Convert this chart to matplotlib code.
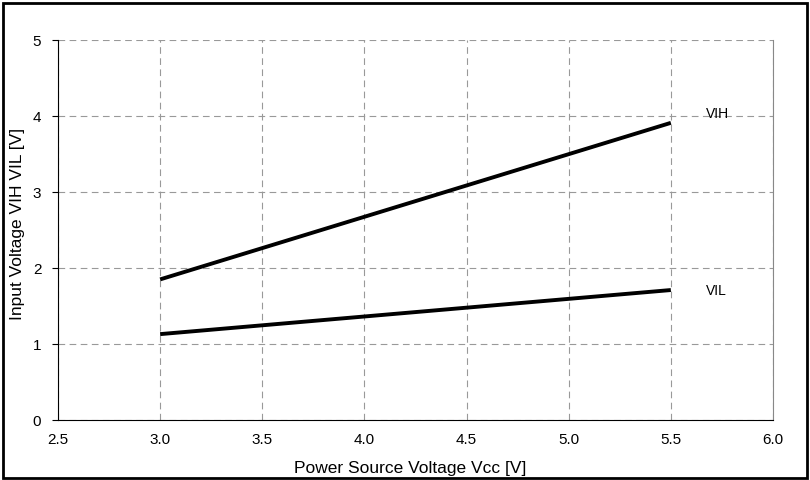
import matplotlib
matplotlib.use('Agg')
import matplotlib.pyplot as plt
from matplotlib.patches import Rectangle

plt.rcParams['font.family'] = ['Liberation Sans', 'DejaVu Sans']

vcc = [3.0, 5.5]
vih = [1.85, 3.91]
vil = [1.13, 1.71]

x_ticks = [2.5, 3.0, 3.5, 4.0, 4.5, 5.0, 5.5, 6.0]
y_ticks = [0, 1, 2, 3, 4, 5]

W, H = 810, 481
fig = plt.figure(figsize=(W / 100, H / 100), dpi=100)
ax = fig.add_axes([58 / W, 1 - 421 / H, (773 - 58) / W, (421 - 41) / H])

ax.plot(vcc, vih, color='black', lw=2.8, solid_capstyle='butt')
ax.plot(vcc, vil, color='black', lw=2.8, solid_capstyle='butt')
ax.text(5.67, 4.04, 'VIH', fontsize=10, ha='left', va='center')
ax.text(5.67, 1.71, 'VIL', fontsize=10, ha='left', va='center')

ax.set_xlim(2.5, 6.0)
ax.set_ylim(0, 5)
ax.set_xticks(x_ticks)
ax.set_xticklabels([f'{v:.1f}' for v in x_ticks])
ax.set_yticks(y_ticks)
ax.grid(True, color='#999999', linestyle=(0, (6, 4)), lw=0.8)
ax.tick_params(axis='x', length=0, pad=9, labelsize=11)
ax.tick_params(axis='y', length=4, width=0.8, direction='out', pad=8, labelsize=11)
ax.spines['left'].set_color('black')
ax.spines['bottom'].set_color('black')
ax.spines['top'].set_visible(False)
ax.spines['right'].set_color('#888888')

fig.text(410 / W, 1 - 469 / H, 'Power Source Voltage Vcc [V]', fontsize=12.5,
         ha='center', va='center')
fig.text(18 / W, 1 - 224 / H, 'Input Voltage VIH VIL [V]', fontsize=12.5,
         ha='center', va='center', rotation=90)

fig.patches.append(Rectangle((3 / W, 2 / H), 804 / W, 475 / H,
                             transform=fig.transFigure, fill=False,
                             edgecolor='black', lw=2))

fig.savefig('out.png', dpi=100)
